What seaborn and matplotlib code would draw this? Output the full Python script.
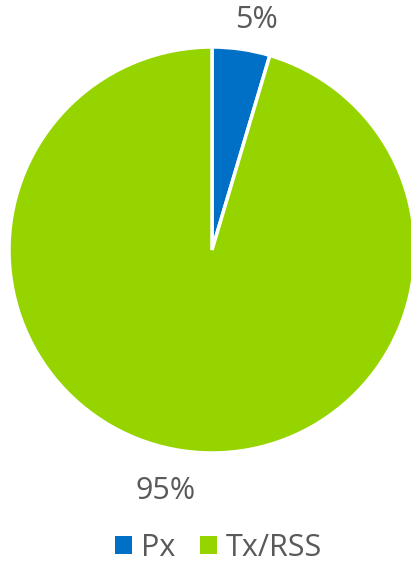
import matplotlib
matplotlib.use("Agg")
import matplotlib.pyplot as plt
from matplotlib.patches import Patch
import numpy as np
import seaborn as sns

sns.set_theme(style="white")
plt.rcParams['font.family'] = ['Open Sans', 'DejaVu Sans']

categories = ["Px", "Tx/RSS"]
shares = [4.6, 95.4]
colors = ["#0070C6", "#96D400"]
text_color = "#595959"

fig = plt.figure(figsize=(4.11, 5.62), dpi=100)
ax = fig.add_axes([9 / 411, 109 / 562, 406 / 411, 406 / 562])

wedges, _, autotexts = ax.pie(
    shares, colors=colors, startangle=90, counterclock=False,
    autopct=lambda p: f"{p:.0f}%", pctdistance=1.18, radius=1,
    wedgeprops=dict(edgecolor="white", linewidth=2.5),
)
# labels sit a little clockwise of the wedge middle, like the original
label_dist = [1.155, 1.21]
for w, t, r in zip(wedges, autotexts, label_dist):
    ang = np.deg2rad((w.theta1 + w.theta2) / 2 - 2.7)
    t.set_position((r * np.cos(ang), r * np.sin(ang)))
    t.set_color(text_color)
    t.set_fontsize(22)
ax.set_xlim(-1, 1)
ax.set_ylim(-1, 1)
ax.set_aspect("equal")
ax.axis("off")

handles = [Patch(facecolor=c, edgecolor="none") for c in colors]
fig.legend(handles, categories, loc="center", bbox_to_anchor=(0.532, 1 - 548 / 562),
           ncol=2, frameon=False, fontsize=22, labelcolor=text_color,
           handlelength=0.55, handleheight=0.55, handletextpad=0.3, columnspacing=0.8)

fig.savefig("out.png", dpi=100)
